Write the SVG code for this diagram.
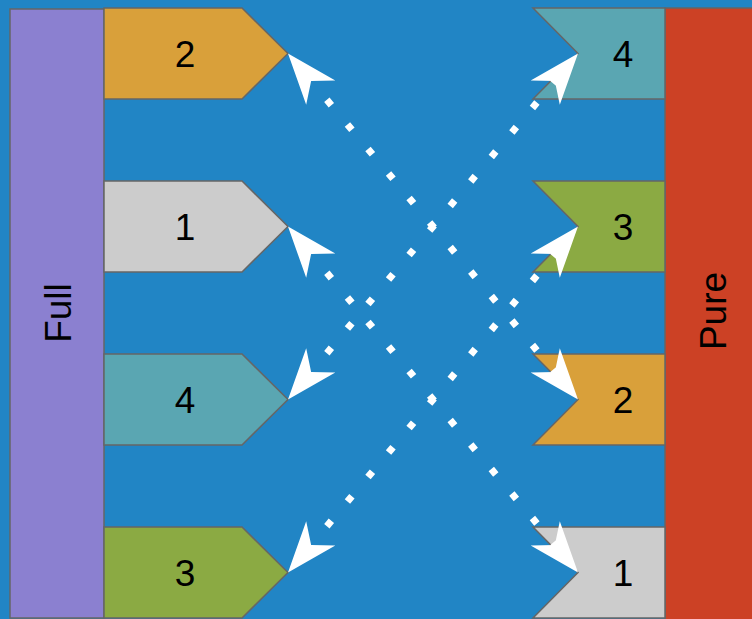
<svg xmlns="http://www.w3.org/2000/svg" width="752" height="619" viewBox="0 0 752 619">
<style>
.sh{stroke:#666666;stroke-width:1.5}
.t{font-family:"Liberation Sans",Arial,sans-serif;font-size:37px;fill:#000;text-anchor:middle}
.c{fill:none;stroke:#fff;stroke-width:7;stroke-dasharray:7 25;stroke-dashoffset:11}
</style>
<defs>
<marker id="ah" viewBox="-46 -21 55 42" refX="0" refY="0" markerWidth="55" markerHeight="42" markerUnits="userSpaceOnUse" orient="auto-start-reverse">
<path d="M7.5,0 L-43.5,-19 L-28.5,0 L-43.5,19 Z" fill="#fff"/>
</marker>
</defs>
<rect x="0" y="0" width="752" height="619" fill="#2185C5"/>
<g id="full"><rect class="sh" x="10" y="9" width="94" height="609" fill="#8B80D0"/><text class="t" x="58" y="326" transform="rotate(-90 58 313)">Full</text></g>
<g id="pure"><rect class="sh" x="665" y="8" width="95" height="620" fill="#CC4125"/><text class="t" x="713" y="324" transform="rotate(-90 713 311)">Pure</text></g>
<g id="l2"><polygon class="sh" points="104,8 242,8 288,53.5 242,99 104,99" fill="#D9A03A"/><text class="t" x="185" y="67">2</text></g>
<g id="l1"><polygon class="sh" points="104,181 242,181 288,226.5 242,272 104,272" fill="#CCCCCC"/><text class="t" x="185" y="240">1</text></g>
<g id="l4"><polygon class="sh" points="104,354 242,354 288,399.5 242,445 104,445" fill="#5AA6B2"/><text class="t" x="185" y="413">4</text></g>
<g id="l3"><polygon class="sh" points="104,527 242,527 288,572.5 242,618 104,618" fill="#8BAA43"/><text class="t" x="185" y="586">3</text></g>
<g id="r4"><polygon class="sh" points="533,8 665,8 665,99 533,99 578,53.5" fill="#5AA6B2"/><text class="t" x="623" y="67">4</text></g>
<g id="r3"><polygon class="sh" points="533,181 665,181 665,272 533,272 578,226.5" fill="#8BAA43"/><text class="t" x="623" y="240">3</text></g>
<g id="r2"><polygon class="sh" points="533,354 665,354 665,445 533,445 578,399.5" fill="#D9A03A"/><text class="t" x="623" y="413">2</text></g>
<g id="r1"><polygon class="sh" points="533,527 665,527 665,618 533,618 578,572.5" fill="#CCCCCC"/><text class="t" x="623" y="586">1</text></g>
<g id="connectors">
<path class="c" d="M292.82,59.25 L573.18,393.75" marker-start="url(#ah)" marker-end="url(#ah)"/>
<path class="c" d="M292.82,232.25 L573.18,566.75" marker-start="url(#ah)" marker-end="url(#ah)"/>
<path class="c" d="M292.82,393.75 L573.18,59.25" marker-start="url(#ah)" marker-end="url(#ah)"/>
<path class="c" d="M292.82,566.75 L573.18,232.25" marker-start="url(#ah)" marker-end="url(#ah)"/>
</g>
</svg>
